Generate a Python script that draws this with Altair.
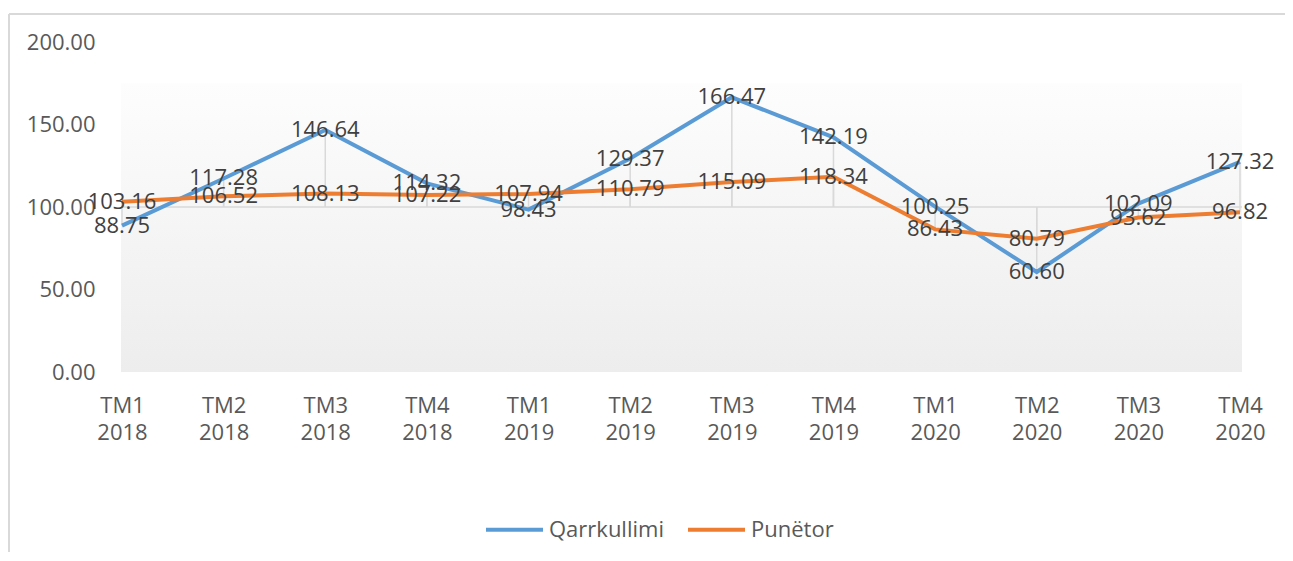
import altair as alt
import pandas as pd

categories = ["TM1 2018", "TM2 2018", "TM3 2018", "TM4 2018",
              "TM1 2019", "TM2 2019", "TM3 2019", "TM4 2019",
              "TM1 2020", "TM2 2020", "TM3 2020", "TM4 2020"]
series_names = ["Qarrkullimi", "Punëtor"]
qarrkullimi = [88.75, 117.28, 146.64, 114.32, 98.43, 129.37, 166.47, 142.19, 100.25, 60.60, 102.09, 127.32]
punetor = [103.16, 106.52, 108.13, 107.22, 107.94, 110.79, 115.09, 118.34, 86.43, 80.79, 93.62, 96.82]
y_ticks = [0, 50, 100, 150, 200]
colors = ["#5b9bd5", "#ed7d31"]

rows = []
for name, vals in zip(series_names, [qarrkullimi, punetor]):
    for c, v in zip(categories, vals):
        rows.append({"cat": c, "series": name, "value": v})
df = pd.DataFrame(rows)

W, H = 1118, 330
FONT = "Open Sans"

x_enc = alt.X("cat:N", sort=categories, title=None,
              scale=alt.Scale(type="point", padding=0),
              axis=alt.Axis(labelExpr="split(datum.label, ' ')", labelAngle=0,
                            labelPadding=23, labelLineHeight=27, domain=False,
                            ticks=False, grid=False, labelFontSize=22,
                            labelColor="#595959", labelFont=FONT))
y_scale = alt.Scale(domain=[0, 200], nice=False, zero=True)
y_enc = alt.Y("value:Q", scale=y_scale, title=None,
              axis=alt.Axis(values=y_ticks, format=".2f", domain=False, ticks=False,
                            grid=False, labelFontSize=22, labelColor="#595959",
                            labelPadding=27, labelFont=FONT))

one = alt.Data(values=[{}])

bg = alt.Chart(one).mark_rect(
    fill=alt.Gradient(gradient="linear", x1=0, y1=0, x2=0, y2=1,
                      stops=[alt.GradientStop(color="#fdfdfd", offset=0),
                             alt.GradientStop(color="#ededed", offset=1)])
).encode(x=alt.value(-1), x2=alt.value(W + 2),
         y=alt.datum(175, scale=y_scale), y2=alt.datum(0))

axis100 = alt.Chart(one).mark_rule(color="#d9d9d9", strokeWidth=1.5).encode(
    x=alt.value(-1), x2=alt.value(W + 2), y=alt.datum(100, scale=y_scale))

base = alt.Chart(df)

drops = base.mark_rule(color="#d9d9d9", strokeWidth=1.5).encode(
    x=x_enc, y=y_enc, y2=alt.datum(100))

lines = base.mark_line(strokeWidth=4).encode(
    x=x_enc, y=y_enc,
    color=alt.Color("series:N", sort=series_names,
                    scale=alt.Scale(domain=series_names, range=colors),
                    legend=alt.Legend(title=None, orient="none", legendX=362, legendY=457,
                                      direction="horizontal", symbolType="stroke",
                                      symbolSize=3249, symbolStrokeWidth=4,
                                      labelFontSize=22, labelColor="#595959",
                                      labelFont=FONT, columnPadding=16,
                                      labelOffset=4, padding=0)),
    detail="series:N")

labels = base.mark_text(fontSize=22, color="#404040", align="center",
                        baseline="middle", font=FONT).encode(
    x=x_enc, y=y_enc, text=alt.Text("value:Q", format=".2f"))

frame_top = alt.Chart(one).mark_rule(color="#d9d9d9", strokeWidth=2).encode(
    x=alt.value(-113), x2=alt.value(W + 50), y=alt.value(-28))
frame_left = alt.Chart(one).mark_rule(color="#d9d9d9", strokeWidth=2).encode(
    x=alt.value(-113), y=alt.value(-28), y2=alt.value(H + 190))

chart = alt.layer(bg, axis100, drops, lines, labels, frame_top, frame_left).properties(
    width=W, height=H,
    padding={"left": 114, "top": 34, "right": 45, "bottom": 180},
    autosize=alt.AutoSizeParams(type="none"),
    background="white"
).configure_view(stroke=None)

chart.save("out.html", embed_options={"renderer": "svg", "actions": False})
